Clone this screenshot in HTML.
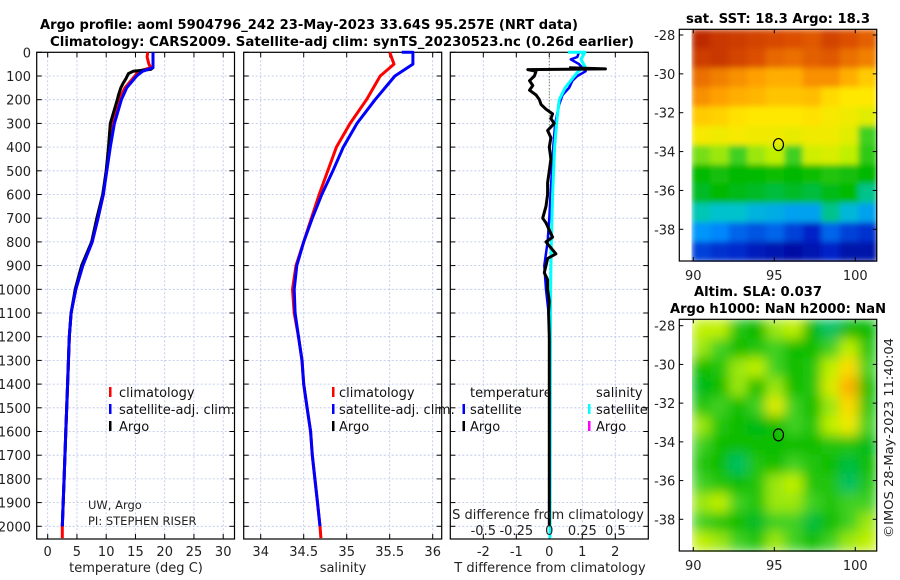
<!DOCTYPE html>
<html><head><meta charset="utf-8">
<style>
html,body{margin:0;padding:0;background:#fff;}
svg{display:block;font-family:"DejaVu Sans","Liberation Sans",sans-serif;}
</style></head>
<body>
<svg id="fig" width="900" height="580" viewBox="0 0 900 580" xmlns="http://www.w3.org/2000/svg">
<defs>
<filter id="blurS" x="0" y="0" width="1" height="1"><feGaussianBlur stdDeviation="3" edgeMode="duplicate"/></filter>
<filter id="blurL" x="0" y="0" width="1" height="1"><feGaussianBlur stdDeviation="6" edgeMode="duplicate"/></filter>
</defs>
<rect width="900" height="580" fill="#fff"/>
<g id="titles" font-weight="bold" font-size="13.5" text-anchor="middle">
<text x="309" y="29" textLength="538" lengthAdjust="spacingAndGlyphs">Argo profile: aoml 5904796_242 23-May-2023 33.64S 95.257E (NRT data)</text>
<text x="342" y="46" textLength="584" lengthAdjust="spacingAndGlyphs">Climatology: CARS2009. Satellite-adj clim: synTS_20230523.nc (0.26d earlier)</text>
<text x="778" y="23" textLength="184" lengthAdjust="spacingAndGlyphs">sat. SST: 18.3 Argo: 18.3</text>
<text x="758" y="296" textLength="128" lengthAdjust="spacingAndGlyphs">Altim. SLA: 0.037</text>
<text x="778" y="313" textLength="216" lengthAdjust="spacingAndGlyphs">Argo h1000: NaN h2000: NaN</text>
</g>
<text x="893" y="438" font-size="12.5" text-anchor="middle" transform="rotate(-90 893 438)" textLength="200" lengthAdjust="spacingAndGlyphs" fill="#222">©IMOS 28-May-2023 11:40:04</text>
<g id="layer"></g>
</svg>
<script>
// ---------- data ----------
const depthTicks = [0,100,200,300,400,500,600,700,800,900,1000,1100,1200,1300,1400,1500,1600,1700,1800,1900,2000];
const tempTicks = [0,5,10,15,20,25,30];
const salTicks = [34,34.5,35,35.5,36];
const salTickLabels = ["34","34.5","35","35.5","36"];
const tdiffTicks = [-2,-1,0,1,2];
const sdiffTicks = [-0.5,-0.25,0,0.25,0.5];
const sdiffTickLabels = ["-0.5","-0.25","0","0.25","0.5"];

const tempClimDepth = [0,20,50,65,80,100,150,200,300,400,500,600,700,800,900,1000,1100,1200,1400,1600,1800,2000,2050];
const tempClimValue = [17.1,17.0,17.3,17.6,15.5,14.9,13.2,12.2,11.0,10.5,10.0,9.5,8.6,7.6,6.0,4.8,4.0,3.7,3.4,3.1,2.8,2.5,2.5];
const tempSatDepth = [0,65,80,100,150,200,300,400,500,600,700,800,900,1000,1100,1200,1400,1600,1800,2000];
const tempSatValue = [18.0,18.0,16.2,15.2,13.5,12.6,11.4,10.7,10.1,9.5,8.6,7.6,6.0,4.8,4.0,3.7,3.4,3.1,2.8,2.5];
const tempArgoDepth = [65,72,80,90,110,130,150,180,200,250,300,400,500,600,700,800,900,1000,1100,1200,1400,1600,1800,2000];
const tempArgoValue = [18.0,17.6,14.6,13.8,13.4,12.9,12.5,12.1,11.9,11.3,10.7,10.4,10.0,9.4,8.4,7.5,5.8,4.7,4.0,3.7,3.4,3.1,2.8,2.5];

const salClimDepth = [0,50,100,200,300,400,500,600,700,800,900,1000,1100,1200,1300,1400,1500,1600,1700,1800,1900,2000,2050];
const salClimValue = [35.5,35.55,35.39,35.23,35.04,34.88,34.78,34.68,34.59,34.5,34.41,34.37,34.39,34.44,34.48,34.5,34.54,34.58,34.6,34.63,34.66,34.69,34.7];
const salSatDepth = [0,0,50,100,200,300,400,500,600,700,800,900,1000,1100,1200,1300,1400,1500,1600,1700,1800,1900,2000];
const salSatValue = [35.64,35.77,35.77,35.56,35.33,35.12,34.96,34.84,34.71,34.6,34.5,34.42,34.39,34.4,34.44,34.48,34.5,34.54,34.58,34.6,34.63,34.66,34.69];

const tdiffSatDepth = [0,20,30,50,80,100,120,150,180,220,300,400,500,600,700,800,900,1000,1100,1200,2000];
const tdiffSatValue = [0.9,0.85,0.65,0.9,1.1,0.85,0.7,0.6,0.4,0.3,0.18,0.12,0.08,0.04,0.0,-0.05,-0.15,-0.1,-0.02,0,0];
const tdiffArgoDepth = [65,70,73,80,100,120,140,160,180,200,220,240,260,280,300,330,360,400,450,500,550,600,650,700,720,750,780,800,850,870,900,930,960,1000,1050,1100,1200,2000];
const tdiffArgoValue = [0.6,1.7,-0.65,-0.4,-0.45,-0.6,-0.5,-0.6,-0.4,-0.3,-0.25,-0.1,0.1,0.05,0.15,-0.05,0.05,0.0,0.05,0.0,-0.05,-0.05,-0.1,-0.2,-0.1,0.0,0.1,-0.1,0.2,-0.05,-0.1,-0.15,-0.05,-0.05,0,-0.02,0,0];
const sdiffSatDepth = [0,0,30,60,80,100,150,200,250,300,400,600,800,1000,2050];
const sdiffSatValue = [0.14,0.27,0.24,0.27,0.22,0.19,0.12,0.075,0.065,0.055,0.04,0.025,0.015,0.01,0.005];

// SST map (colormap fraction 0..1), rows north->south, cols west->east
const sstGrid = [
[0.96,0.94,0.93,0.92,0.91,0.9,0.89,0.92,0.9,0.88],
[0.93,0.94,0.92,0.9,0.87,0.86,0.88,0.89,0.86,0.84],
[0.86,0.84,0.82,0.8,0.78,0.78,0.82,0.82,0.78,0.74],
[0.82,0.8,0.78,0.77,0.75,0.75,0.76,0.72,0.7,0.7],
[0.74,0.73,0.71,0.7,0.7,0.7,0.71,0.69,0.68,0.66],
[0.69,0.68,0.69,0.68,0.68,0.67,0.68,0.68,0.66,0.55],
[0.58,0.6,0.55,0.6,0.62,0.55,0.64,0.65,0.62,0.52],
[0.46,0.48,0.45,0.46,0.47,0.45,0.47,0.5,0.48,0.45],
[0.43,0.45,0.44,0.43,0.42,0.43,0.42,0.44,0.46,0.38],
[0.36,0.34,0.34,0.31,0.3,0.28,0.28,0.38,0.32,0.28],
[0.26,0.24,0.2,0.18,0.2,0.16,0.12,0.2,0.16,0.14],
[0.16,0.14,0.13,0.1,0.08,0.06,0.08,0.12,0.07,0.07]];
const slaGrid = [
[0.62,0.62,0.5,0.45,0.6,0.62,0.45,0.4,0.45,0.45],
[0.6,0.55,0.47,0.5,0.55,0.47,0.47,0.55,0.62,0.5],
[0.47,0.5,0.6,0.62,0.55,0.47,0.5,0.62,0.72,0.55],
[0.44,0.47,0.6,0.47,0.6,0.47,0.5,0.65,0.78,0.47],
[0.5,0.55,0.47,0.55,0.66,0.55,0.47,0.6,0.72,0.5],
[0.6,0.5,0.47,0.44,0.47,0.55,0.5,0.62,0.68,0.55],
[0.55,0.47,0.47,0.47,0.47,0.47,0.47,0.5,0.5,0.44],
[0.5,0.47,0.4,0.5,0.47,0.55,0.5,0.47,0.42,0.47],
[0.55,0.5,0.47,0.5,0.6,0.62,0.5,0.5,0.4,0.5],
[0.6,0.62,0.55,0.5,0.6,0.6,0.55,0.5,0.55,0.55],
[0.55,0.5,0.47,0.43,0.55,0.55,0.42,0.47,0.55,0.6],
[0.62,0.6,0.55,0.5,0.6,0.55,0.47,0.55,0.6,0.62]];
const latTicks = [-28,-30,-32,-34,-36,-38];
const lonTicks = [90,95,100];
const argoLon = 95.257, argoLat = -33.64;

// ---------- helpers ----------
const NS="http://www.w3.org/2000/svg";
const layer=document.getElementById('layer');
function el(tag,attrs,parent){const e=document.createElementNS(NS,tag);for(const k in attrs)e.setAttribute(k,attrs[k]);(parent||layer).appendChild(e);return e;}
const TOP=52.3, BOT=539;
const yD = d => TOP + d*0.2370;
const xT = t => 47.7 + t*5.85;
const xS = s => 260.7 + (s-34)*86;
const xDT = v => 549.3 + v*33;
const xDS = v => 549.3 + v*4*33;

function panel(x0,x1,name,xgrid){
  const g=el('g',{});
  
  
  xgrid.forEach(x=>el('line',{x1:x,x2:x,y1:TOP,y2:BOT,stroke:'#b8c0e8','stroke-width':0.8,'stroke-dasharray':'2,2'},g));
  depthTicks.forEach(d=>{const y=yD(d);
    el('line',{x1:x0,x2:x1,y1:y,y2:y,stroke:'#b8c0e8','stroke-width':0.8,'stroke-dasharray':'2,2'},g);
    el('line',{x1:x0,x2:x0+5,y1:y,y2:y,stroke:'#000','stroke-width':1},g);
    el('line',{x1:x1-5,x2:x1,y1:y,y2:y,stroke:'#000','stroke-width':1},g);});
  xgrid.forEach(x=>{el('line',{x1:x,x2:x,y1:BOT,y2:BOT-5,stroke:'#000'},g);el('line',{x1:x,x2:x,y1:TOP,y2:TOP+5,stroke:'#000'},g);});
  el('rect',{x:x0,y:TOP,width:x1-x0,height:BOT-TOP,fill:'none',stroke:'#000','stroke-width':1.2},g);
  return g;
}
function line(depths,vals,xf,color,w,name){
  const pts=depths.map((d,i)=>xf(vals[i]).toFixed(1)+','+yD(d).toFixed(1)).join(' ');
  const p=el('polyline',{points:pts,fill:'none',stroke:color,'stroke-width':w,'stroke-linejoin':'round'});
  
  
}
function txt(x,y,s,opts){const t=el('text',Object.assign({x:x,y:y,'font-size':13,fill:'#222'},opts||{}));t.textContent=s;return t;}

// depth labels
depthTicks.forEach(d=>{const t=txt(31,yD(d)+5,String(d),{'text-anchor':'end'});
  
  });

// panel 1 temperature
panel(36.7,234.5,'temperature-panel',tempTicks.map(xT));
tempTicks.forEach(t=>{const e=txt(xT(t),556,String(t),{'text-anchor':'middle'});
  
  });
const xl1=txt(136,572,'temperature (deg C)',{'text-anchor':'middle'});


line(tempClimDepth,tempClimValue,xT,'#ff0000',3,'temperature-climatology-line');
line(tempArgoDepth,tempArgoValue,xT,'#000',3,'temperature-argo-line');
line(tempSatDepth,tempSatValue,xT,'#0000ff',3,'temperature-satellite-line');

// panel 2 salinity
panel(243.7,441.7,'salinity-panel',salTicks.map(xS));
salTicks.forEach((s,i)=>{const e=txt(xS(s),556,salTickLabels[i],{'text-anchor':'middle'});
  
  });
const xl2=txt(343,572,'salinity',{'text-anchor':'middle'});


line(salClimDepth,salClimValue,xS,'#ff0000',3,'salinity-climatology-line');
line(salSatDepth,salSatValue,xS,'#0000ff',3,'salinity-satellite-line');

// panel 3 differences
panel(450.3,648.3,'difference-panel',tdiffTicks.map(xDT));
el('line',{x1:xDT(0),x2:xDT(0),y1:TOP,y2:yD(320),stroke:'#556b2f','stroke-width':1,'stroke-dasharray':'1,2'});
tdiffTicks.forEach(t=>{const e=txt(xDT(t),556,String(t),{'text-anchor':'middle'});
  
  });
const xl3=txt(550,572,'T difference from climatology',{'text-anchor':'middle'});


line(tdiffSatDepth,tdiffSatValue,xDT,'#0000ff',2.5,'tdiff-satellite-line');
line(sdiffSatDepth,sdiffSatValue,xDS,'#00ffff',3,'sdiff-satellite-line');
line(tdiffArgoDepth,tdiffArgoValue,xDT,'#000',3,'tdiff-argo-line');
const st=txt(548,519,'S difference from climatology',{'text-anchor':'middle'});


sdiffTicks.forEach((s,i)=>{const e=txt(xDS(s),535,sdiffTickLabels[i],{'text-anchor':'middle'});
  
  });

// legends
function legendEntry(bx,tx,y,color,label,name){
  const g=el('g',{});
  
  
  if(color) el('rect',{x:bx-1,y:y-10,width:2.5,height:10,fill:color},g);
  const t=el('text',{x:tx,y:y,'font-size':13,fill:'#111'},g);t.textContent=label;
}
[[110,119,'#ff0000','climatology'],[110,119,'#0000ff','satellite-adj. clim.'],[110,119,'#000','Argo']].forEach((e,i)=>legendEntry(e[0],e[1],397+i*17,e[2],e[3],'temperature-legend-entry'));
[[333,339,'#ff0000','climatology'],[333,339,'#0000ff','satellite-adj. clim.'],[333,339,'#000','Argo']].forEach((e,i)=>legendEntry(e[0],e[1],397+i*17,e[2],e[3],'salinity-legend-entry'));
legendEntry(0,470,397,null,'temperature','diff-legend-temperature-header');
legendEntry(463.5,470,414,'#0000ff','satellite','diff-legend-temperature-satellite');
legendEntry(463.5,470,431,'#000','Argo','diff-legend-temperature-argo');
legendEntry(0,596,397,null,'salinity','diff-legend-salinity-header');
legendEntry(589,596,414,'#00ffff','satellite','diff-legend-salinity-satellite');
legendEntry(589,596,431,'#ff00ff','Argo','diff-legend-salinity-argo');
const pi1=txt(88,509,'UW, Argo',{'font-size':11.5});


const pi2=txt(88,525,'PI: STEPHEN RISER',{'font-size':11.5});



// colormap
const stops=[[0,[0,0,130]],[0.12,[0,32,200]],[0.25,[0,144,255]],[0.35,[0,200,200]],[0.45,[0,184,0]],[0.55,[64,208,32]],[0.62,[192,240,0]],[0.7,[255,232,0]],[0.8,[255,160,0]],[0.9,[220,80,0]],[1,[170,20,0]]];
function cmap(v){for(let i=1;i<stops.length;i++){if(v<=stops[i][0]){const a=stops[i-1],b=stops[i],f=(v-a[0])/(b[0]-a[0]);const c=a[1].map((x,k)=>Math.round(x+(b[1][k]-x)*f));return 'rgb('+c.join(',')+')';}}return 'rgb(170,20,0)';}

function map(grid,fx0,fy0,fx1,fy1,ix0,latY,name,filt){
  const g=el('g',{});
  
  
  const lonX=l=>693.3+(l-90)*16.2;
  const ly=l=>latY[0]+(l+28)*(latY[1]-latY[0])/(-10);
  const rows=grid.length, cols=grid[0].length;
  const cw=(fx1-ix0)/cols, ch=(fy1-fy0)/rows;
  const img=el('g',{filter:'url(#'+filt+')'},g);
  grid.forEach((row,r)=>row.forEach((v,c)=>{const cell=el('rect',{x:(ix0+c*cw).toFixed(2),y:(fy0+r*ch).toFixed(2),width:(cw+0.6).toFixed(2),height:(ch+0.6).toFixed(2),fill:cmap(v)},img);
    
    }));
  el('rect',{x:fx0,y:fy0,width:fx1-fx0,height:fy1-fy0,fill:'none',stroke:'#000','stroke-width':1.2},g);
  latTicks.forEach(l=>{const y=ly(l);el('line',{x1:fx0,x2:fx0+4,y1:y,y2:y,stroke:'#000'},g);el('line',{x1:fx1-4,x2:fx1,y1:y,y2:y,stroke:'#000'},g);
    const t=txt(fx0-4,y+5,String(l),{'text-anchor':'end'});});
  lonTicks.forEach(l=>{const x=lonX(l);el('line',{x1:x,x2:x,y1:fy1,y2:fy1-4,stroke:'#000'},g);el('line',{x1:x,x2:x,y1:fy0,y2:fy0+4,stroke:'#000'},g);
    const t=txt(x,fy1+19,String(l),{'text-anchor':'middle'});});
  const m=el('ellipse',{cx:lonX(argoLon),cy:ly(argoLat),rx:5,ry:6,fill:'none',stroke:'#000','stroke-width':1.2},g);
  
  
}
map(sstGrid,679.3,29.3,876.7,261,691.7,[35,229.3],'sst-map','blurS');
map(slaGrid,679.3,319.3,876.7,551,692,[325.7,519.3],'sla-map','blurL');
</script>
</body></html>
